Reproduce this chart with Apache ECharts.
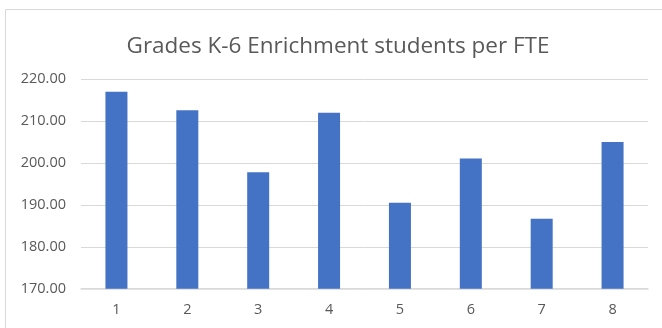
<!DOCTYPE html>
<html>
<head>
<meta charset="utf-8">
<script src="https://cdn.jsdelivr.net/npm/echarts@6/dist/echarts.min.js"></script>
<style>
  html, body { margin: 0; padding: 0; background: #fff; }
  #chart { width: 662px; height: 328px; }
</style>
</head>
<body>
<div id="chart"></div>
<script>
// Grade levels along the x axis
const categories = ['1', '2', '3', '4', '5', '6', '7', '8'];
// Enrichment students per FTE for each grade
const studentsPerFte = [217.0, 212.6, 197.8, 212.0, 190.5, 201.1, 186.7, 205.0];
const titleText = 'Grades K-6 Enrichment students per FTE';

const chart = echarts.init(document.getElementById('chart'), null, { renderer: 'canvas' });
const font = '"Open Sans", "Liberation Sans", sans-serif';

chart.setOption({
  animation: false,
  backgroundColor: '#ffffff',
  graphic: [{
    type: 'rect',
    shape: { x: 5.5, y: 9.5, width: 662, height: 330 },
    style: { fill: 'none', stroke: '#d9d9d9', lineWidth: 1 },
    silent: true
  }],
  title: {
    text: titleText,
    left: 333,
    top: 30,
    textAlign: 'center',
    textStyle: { fontFamily: font, fontSize: 22.5, fontWeight: 'normal', color: '#595959' }
  },
  grid: { left: 81, right: 14, top: 79.3, bottom: 39.3, containLabel: false },
  xAxis: {
    type: 'category',
    data: categories,
    axisLine: { lineStyle: { color: '#d9d9d9', width: 1.5 } },
    axisTick: { show: false },
    axisLabel: { color: '#595959', fontFamily: font, fontSize: 14.5, margin: 14 }
  },
  yAxis: {
    type: 'value',
    min: 170,
    max: 220,
    interval: 10,
    axisLine: { show: false },
    axisTick: { show: false },
    splitLine: { lineStyle: { color: '#d9d9d9', width: 1 } },
    axisLabel: {
      color: '#595959', fontFamily: font, fontSize: 14.5, margin: 15,
      formatter: v => v.toFixed(2)
    }
  },
  series: [{
    type: 'bar',
    data: studentsPerFte,
    barWidth: 22,
    itemStyle: { color: '#4472c4' }
  }]
});
</script>
</body>
</html>
